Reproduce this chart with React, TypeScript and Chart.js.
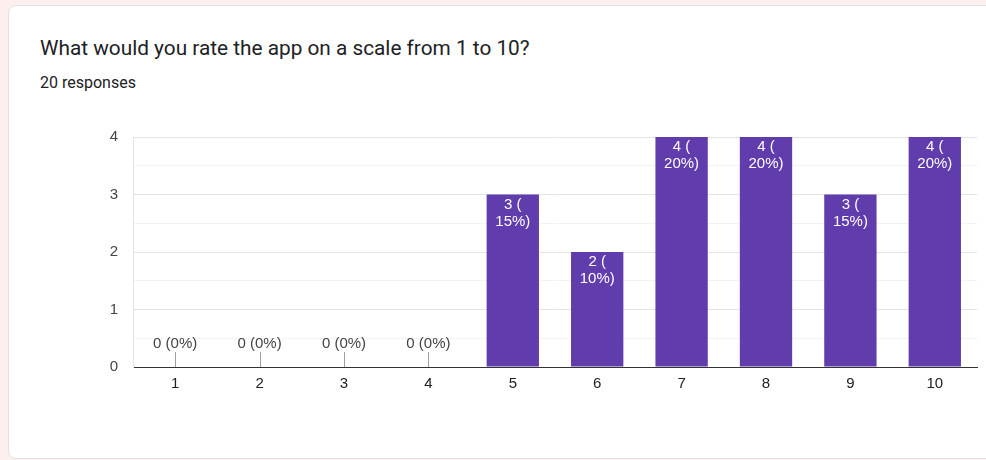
import React, { useEffect, useRef } from "react";
import { Chart, registerables } from "chart.js";

Chart.register(...registerables);

const categories = ["1", "2", "3", "4", "5", "6", "7", "8", "9", "10"];
const counts = [0, 0, 0, 0, 3, 2, 4, 4, 3, 4];
const yTicks = [0, 1, 2, 3, 4];
const titleText = "What would you rate the app on a scale from 1 to 10?";
const subtitleText = "20 responses";

const BAR_COLOR = "#603cad";
const LABEL_FONT = "15px 'Liberation Sans', Arial, sans-serif";

const barLabels = {
  id: "barLabels",
  afterDatasetsDraw(chart: any) {
    const ctx = chart.ctx;
    const meta = chart.getDatasetMeta(0);
    const data = chart.data.datasets[0].data as number[];
    const total = data.reduce((a, b) => a + b, 0);
    ctx.save();
    ctx.font = LABEL_FONT;
    ctx.textAlign = "center";
    meta.data.forEach((bar: any, i: number) => {
      const v = data[i];
      const pct = Math.round((v / total) * 100);
      if (v > 0) {
        ctx.fillStyle = "#ffffff";
        ctx.textBaseline = "middle";
        ctx.fillText(`${v} (`, bar.x, bar.y + 10);
        ctx.fillText(`${pct}%)`, bar.x, bar.y + 27);
      } else {
        const base = chart.scales.y.getPixelForValue(0);
        ctx.strokeStyle = "#9e9e9e";
        ctx.lineWidth = 1;
        ctx.beginPath();
        ctx.moveTo(Math.round(bar.x) + 0.5, base);
        ctx.lineTo(Math.round(bar.x) + 0.5, base - 15);
        ctx.stroke();
        ctx.fillStyle = "#444444";
        ctx.textBaseline = "middle";
        ctx.fillText(`${v} (${pct}%)`, bar.x, base - 23);
      }
    });
    ctx.restore();
  },
};

export default function App() {
  const ref = useRef<HTMLCanvasElement | null>(null);

  useEffect(() => {
    if (!ref.current) return;
    const chart = new Chart(ref.current, {
      type: "bar",
      data: {
        labels: categories,
        datasets: [
          {
            data: counts,
            backgroundColor: BAR_COLOR,
            barPercentage: 1,
            categoryPercentage: 0.62,
          },
        ],
      },
      options: {
        animation: false,
        responsive: false,
        maintainAspectRatio: false,
        layout: { padding: { top: 137, right: 9, bottom: 53, left: 0 } },
        plugins: {
          legend: { display: false },
          tooltip: { enabled: false },
        },
        scales: {
          x: {
            afterFit: (s: any) => {
              s.height = 40;
            },
            grid: { display: false, drawTicks: false },
            border: { display: true, color: "#333333", width: 1 },
            ticks: {
              padding: 8,
              color: "#222222",
              font: { family: "'Liberation Sans', Arial, sans-serif", size: 15 },
            },
          },
          y: {
            min: yTicks[0],
            max: yTicks[yTicks.length - 1],
            afterFit: (s: any) => {
              s.width = 133;
            },
            afterBuildTicks: (s: any) => {
              const t: any[] = [];
              for (let v = yTicks[0]; v <= yTicks[yTicks.length - 1] + 1e-9; v += 0.5) t.push({ value: v });
              s.ticks = t;
            },
            grid: {
              drawTicks: false,
              color: (c: any) =>
                c.tick && c.tick.value === 0
                  ? "#333333"
                  : c.tick && c.tick.value % 1 === 0
                  ? "#e4e4e4"
                  : "#f3f3f3",
            },
            border: { display: true, color: "#e4e4e4" },
            ticks: {
              padding: 15,
              color: "#444444",
              font: { family: "'Liberation Sans', Arial, sans-serif", size: 15 },
              callback: (v: any) => (Number(v) % 1 === 0 ? String(v) : ""),
            },
          },
        },
      },
      plugins: [barLabels],
    });
    return () => chart.destroy();
  }, []);

  return (
    <div
      style={{
        position: "fixed",
        inset: 0,
        background: "#fcefee",
        overflow: "hidden",
      }}
    >
      <div
        style={{
          position: "absolute",
          left: 8,
          top: 5,
          width: 1000,
          height: 452,
          background: "#ffffff",
          border: "1px solid #dfe0ea",
          borderRadius: 8,
        }}
      />
      <div
        style={{
          position: "absolute",
          left: 40,
          top: 35,
          fontFamily: "Roboto, 'Noto Sans', sans-serif",
          fontSize: 20.8,
          lineHeight: "26px",
          color: "#202124",
          whiteSpace: "nowrap",
        }}
      >
        {titleText}
      </div>
      <div
        style={{
          position: "absolute",
          left: 40,
          top: 73,
          fontFamily: "Roboto, 'Noto Sans', sans-serif",
          fontSize: 16,
          lineHeight: "20px",
          color: "#202124",
          whiteSpace: "nowrap",
        }}
      >
        {subtitleText}
      </div>
      <canvas
        ref={ref}
        width={986}
        height={460}
        style={{ position: "absolute", left: 0, top: 0, width: 986, height: 460 }}
      />
    </div>
  );
}
